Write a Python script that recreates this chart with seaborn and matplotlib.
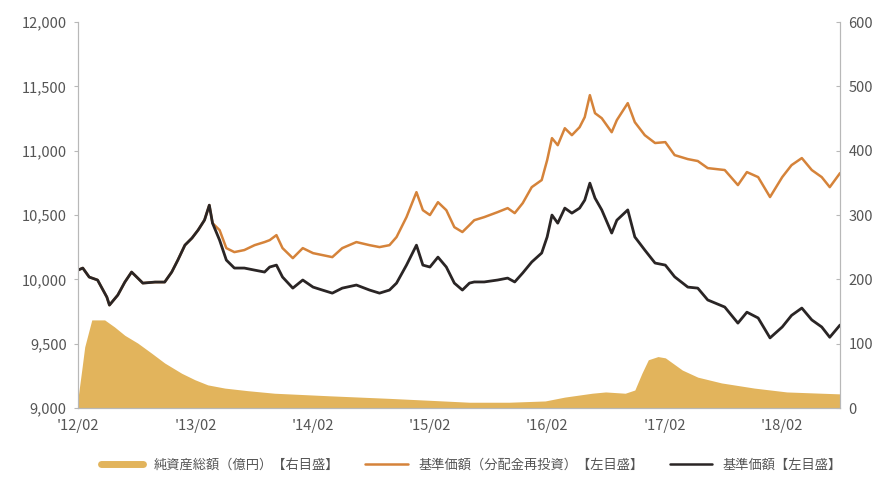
import numpy as np
import pandas as pd
import seaborn as sns
import matplotlib.pyplot as plt
from matplotlib.ticker import FuncFormatter

# values (approx.)
dates = ["2012-02-01", "2012-02-16", "2012-03-07", "2012-04-02", "2012-05-01", "2012-05-09",
         "2012-06-04", "2012-06-26", "2012-07-17", "2012-08-02", "2012-08-21", "2012-09-28",
         "2012-10-28", "2012-11-19", "2012-12-08", "2012-12-30", "2013-01-21", "2013-02-09",
         "2013-03-01", "2013-03-16", "2013-03-26", "2013-04-17", "2013-05-08", "2013-06-02",
         "2013-07-03", "2013-08-04", "2013-09-04", "2013-09-20", "2013-10-11", "2013-10-30",
         "2013-12-01", "2014-01-01", "2014-02-02", "2014-03-03", "2014-04-03", "2014-05-04",
         "2014-06-17", "2014-07-28", "2014-08-28", "2014-09-28", "2014-10-20", "2014-11-20",
         "2014-12-21", "2015-01-10", "2015-02-01", "2015-02-26", "2015-03-24", "2015-04-18",
         "2015-05-13", "2015-06-04", "2015-06-19", "2015-07-20", "2015-08-31", "2015-10-01",
         "2015-10-23", "2015-11-17", "2015-12-15", "2016-01-15", "2016-02-01", "2016-02-16",
         "2016-03-05", "2016-03-27", "2016-04-18", "2016-05-12", "2016-05-28", "2016-06-13",
         "2016-06-29", "2016-07-20", "2016-08-20", "2016-09-05", "2016-10-09", "2016-10-31",
         "2016-12-01", "2017-01-02", "2017-02-03", "2017-03-04", "2017-04-14", "2017-05-15",
         "2017-06-15", "2017-08-07", "2017-09-17", "2017-10-15", "2017-11-19", "2017-12-26",
         "2018-02-02", "2018-03-03", "2018-04-04", "2018-05-05", "2018-06-05", "2018-06-30",
         "2018-08-01"]

nav = [10072, 10088, 10018, 9995, 9862, 9800, 9878, 9979, 10057, 10018,
       9971, 9979, 9979, 10057, 10150, 10266, 10321, 10383, 10461, 10577,
       10437, 10305, 10150, 10088, 10088, 10072, 10057, 10096, 10111, 10018,
       9932, 9995, 9940, 9917, 9893, 9932, 9956, 9917, 9893, 9917,
       9971, 10111, 10266, 10111, 10096, 10173, 10096, 9971, 9917, 9971,
       9980, 9980, 9995, 10010, 9980, 10050, 10135, 10205, 10330, 10500,
       10437, 10554, 10515, 10554, 10616, 10748, 10632, 10540, 10360, 10460,
       10540, 10330, 10228, 10127, 10111, 10020, 9940, 9932, 9840, 9785,
       9660, 9745, 9700, 9545, 9630, 9720, 9777, 9685, 9630, 9550,
       9645]

nav_reinv = [10072, 10088, 10018, 9995, 9862, 9800, 9878, 9979, 10057, 10018,
             9971, 9979, 9979, 10057, 10150, 10266, 10321, 10383, 10461, 10577,
             10437, 10383, 10243, 10212, 10228, 10266, 10290, 10305, 10344, 10243,
             10165, 10243, 10204, 10189, 10173, 10243, 10290, 10266, 10251, 10266,
             10329, 10484, 10678, 10538, 10500, 10600, 10538, 10406, 10368, 10422,
             10460, 10484, 10523, 10554, 10515, 10593, 10717, 10772, 10927, 11098,
             11043, 11175, 11121, 11183, 11261, 11432, 11292, 11253, 11144, 11238,
             11370, 11222, 11121, 11060, 11067, 10966, 10935, 10920, 10865, 10850,
             10733, 10834, 10795, 10640, 10795, 10888, 10943, 10850, 10795, 10717,
             10826]

aum_dates = ["2012-02-01", "2012-02-13", "2012-02-22", "2012-03-15", "2012-04-24", "2012-05-25",
             "2012-06-26", "2012-08-05", "2012-09-18", "2012-10-28", "2012-12-20", "2013-01-30",
             "2013-03-11", "2013-05-03", "2013-07-13", "2013-10-05", "2014-03-25", "2014-09-28",
             "2015-02-01", "2015-06-04", "2015-10-05", "2016-01-26", "2016-03-27", "2016-06-20",
             "2016-08-01", "2016-10-01", "2016-10-31", "2016-11-22", "2016-12-12", "2017-01-11",
             "2017-02-03", "2017-03-28", "2017-05-15", "2017-07-28", "2017-11-07", "2018-02-16",
             "2018-06-05", "2018-08-01"]
aum = [15, 60, 95, 137, 137, 126, 113, 101, 85, 70, 54, 44,
       36, 31, 27, 23, 19, 15, 12, 9, 9, 11, 17, 23,
       25, 23, 28, 54, 75, 80, 78, 59, 48, 39, 31, 25,
       23, 22]

tick_dates = ["2012-02-01", "2013-02-01", "2014-02-01", "2015-02-01",
              "2016-02-01", "2017-02-01", "2018-02-01"]
tick_labels = ["'12/02", "'13/02", "'14/02", "'15/02", "'16/02", "'17/02", "'18/02"]

labels = ["純資産総額（億円）【右目盛】", "基準価額（分配金再投資）【左目盛】", "基準価額【左目盛】"]

sns.set_style("white")
plt.rcParams['font.family'] = ['Noto Sans CJK JP', 'DejaVu Sans']

gold = "#e2b45c"
orange = "#d5833a"
dark = "#2a2525"
axis_gray = "#b8b8b8"
text_gray = "#555555"

df = pd.DataFrame({"date": pd.to_datetime(dates), "nav": nav, "nav_reinv": nav_reinv})
df_aum = pd.DataFrame({"date": pd.to_datetime(aum_dates), "aum": aum})

fig = plt.figure(figsize=(8.81, 4.91), dpi=100)
ax = fig.add_axes([0.0885, 0.169, 0.865, 0.786])
ax2 = ax.twinx()

ax2.fill_between(df_aum["date"], 0, df_aum["aum"], color=gold, lw=0)
ax2.set_ylim(0, 600)
ax2.set_yticks([0, 100, 200, 300, 400, 500, 600])

sns.lineplot(data=df, x="date", y="nav_reinv", ax=ax, color=orange, lw=1.8)
sns.lineplot(data=df, x="date", y="nav", ax=ax, color=dark, lw=2.0)

# lines above the area of the twin axis
ax.set_zorder(ax2.get_zorder() + 1)
ax.patch.set_visible(False)

ax.set_ylim(9000, 12000)
ax.set_yticks(np.arange(9000, 12001, 500))
ax.yaxis.set_major_formatter(FuncFormatter(lambda v, p: f"{int(v):,}"))
ax.set_xlim(pd.Timestamp("2012-02-01"), pd.Timestamp("2018-08-01"))
ax.set_xticks(pd.to_datetime(tick_dates))
ax.set_xticklabels(tick_labels)
ax.set_xlabel("")
ax.set_ylabel("")

for a in (ax, ax2):
    a.spines["top"].set_visible(False)
    for s in ("left", "right", "bottom"):
        a.spines[s].set_color(axis_gray)
        a.spines[s].set_linewidth(0.8)
ax.tick_params(axis="y", direction="out", length=3, color=axis_gray, labelsize=10.5,
               labelcolor=text_gray, pad=5)
ax.tick_params(axis="x", direction="in", length=3, color=axis_gray, labelsize=10.5,
               labelcolor=text_gray, pad=8)
ax2.tick_params(axis="y", direction="in", length=3, color=axis_gray, labelsize=10.5,
                labelcolor=text_gray, pad=6)

handles = [plt.Line2D([], [], color=gold, lw=5),
           plt.Line2D([], [], color=orange, lw=1.8),
           plt.Line2D([], [], color=dark, lw=1.8)]
fig.legend(handles, labels, loc="center", bbox_to_anchor=(0.535, 0.053), ncol=3,
           frameon=False, fontsize=9.5, handlelength=3.2, columnspacing=2.0,
           labelcolor=text_gray)

fig.savefig("out.png", dpi=100)
